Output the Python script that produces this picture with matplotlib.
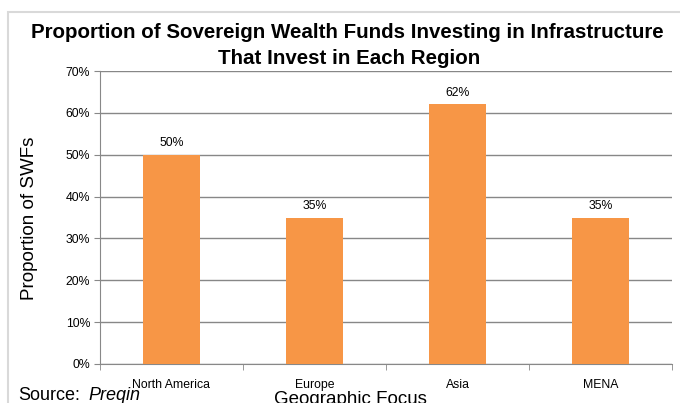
import matplotlib.pyplot as plt
from matplotlib.patches import Rectangle
from matplotlib.ticker import FuncFormatter

plt.rcParams['font.family'] = ['Liberation Sans', 'DejaVu Sans']

regions = ["North America", "Europe", "Asia", "MENA"]
shares = [50, 35, 62, 35]
yticks = [0, 10, 20, 30, 40, 50, 60, 70]

fig = plt.figure(figsize=(6.8, 4.03), dpi=100)
ax = fig.add_axes([100 / 680, 1 - 364 / 403, 572 / 680, (364 - 71) / 403])

# light frame of the original chart box (cut off on right / bottom)
fig.patches.append(Rectangle((8 / 680, -0.1), 1.2, 1 - 12 / 403 + 0.1,
                             transform=fig.transFigure, fill=False,
                             edgecolor='#d9d9d9', linewidth=1.5))

x = range(len(regions))
bars = ax.bar(x, shares, width=0.4, color='#F79646', zorder=3)
for b, v in zip(bars, shares):
    ax.text(b.get_x() + b.get_width() / 2, v + 1.3, f"{v}%",
            ha='center', va='bottom', fontsize=8.8)

ax.set_xlim(-0.5, len(regions) - 0.5)
ax.set_ylim(0, 70)
ax.set_yticks(yticks)
ax.yaxis.set_major_formatter(FuncFormatter(lambda v, p: f"{v:.0f}%"))
ax.set_xticks(list(x))
ax.set_xticklabels(regions, fontsize=8.8)
ax.set_xticks([i + 0.5 for i in range(-1, len(regions))], minor=True)
ax.tick_params(axis='x', which='major', length=0, pad=11)
ax.tick_params(axis='x', which='minor', length=4, color='#888888')
ax.tick_params(axis='y', labelsize=8.8, length=4, color='#888888', pad=3)

ax.grid(axis='y', color='#878787', linewidth=1, zorder=0)
for s in ['top', 'right']:
    ax.spines[s].set_visible(False)
ax.spines['left'].set_color('#888888')
ax.spines['bottom'].set_color('#888888')

fig.text(347 / 680, 1 - 33 / 403, "Proportion of Sovereign Wealth Funds Investing in Infrastructure",
         ha='center', va='center', fontsize=14.8, fontweight='bold')
fig.text(349 / 680, 1 - 59 / 403, "That Invest in Each Region",
         ha='center', va='center', fontsize=14.8, fontweight='bold')

fig.text(30 / 680, 1 - 218 / 403, "Proportion of SWFs", rotation=90,
         ha='center', va='center', fontsize=13.5)
fig.text(350 / 680, 1 - 399 / 403, "Geographic Focus",
         ha='center', va='center', fontsize=13.5)
fig.text(18 / 680, 1 - 396 / 403, "Source:", ha='left', va='center', fontsize=13)
fig.text(88 / 680, 1 - 396 / 403, "Preqin", ha='left', va='center',
         fontsize=13, style='italic')

fig.savefig("out.png", dpi=100)
